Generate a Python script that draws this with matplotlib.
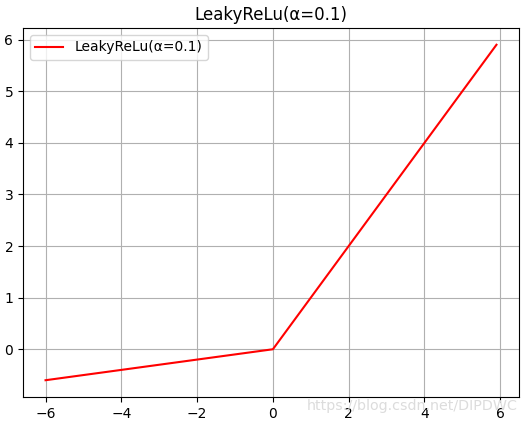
import numpy as np
import matplotlib
matplotlib.use("Agg")
import matplotlib.pyplot as plt

# breakpoints of the curve
x = [-6.0, 0.0, 5.9]
y = [-0.6, 0.0, 5.9]

fig = plt.figure(figsize=(5.25, 4.24), dpi=100)
ax = fig.add_axes([0.0438, 0.0637, 0.9448, 0.8703])
ax.plot(x, y, color="red", label="LeakyReLu(α=0.1)")
ax.set_title("LeakyReLu(α=0.1)")
ax.grid(True)
ax.legend(loc="upper left")

# faint watermark overlapping the tick labels, as in the reference
fig.text(0.985, 0.025, "https://blog.csdn.net/DIPDWC", ha="right", va="bottom",
         color="#dcdcdc", fontsize=10.3)

fig.savefig("out.png", dpi=100)
